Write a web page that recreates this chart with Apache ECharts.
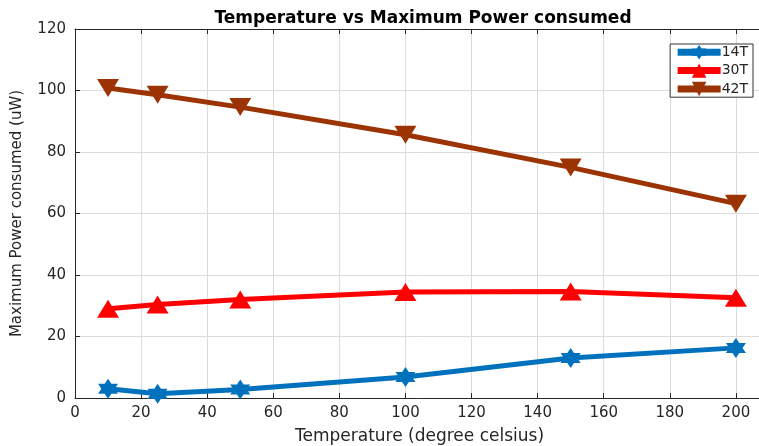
<!DOCTYPE html>
<html><head><meta charset="utf-8">
<script src="https://cdn.jsdelivr.net/npm/echarts@6/dist/echarts.min.js"></script>
<style>html,body{margin:0;padding:0;background:#fff;overflow:hidden}#c{width:759px;height:446px}</style>
</head><body><div id="c"></div>
<script>
var temps = [10, 25, 50, 100, 150, 200];
var s14 = [3.0, 1.4, 2.8, 6.8, 13.0, 16.3];
var s30 = [29.0, 30.4, 32.0, 34.5, 34.6, 32.6];
var s42 = [100.8, 98.6, 94.6, 85.6, 75.0, 63.2];
var seriesNames = ['14T', '30T', '42T'];
var titleText = 'Temperature vs Maximum Power consumed';
var xName = 'Temperature (degree celsius)';
var yName = 'Maximum Power consumed (uW)';

function pairs(v){ return temps.map(function(t,i){ return [t, v[i]]; }); }
var hexagram = 'path://M0,-10 L2.887,-5 L8.66,-5 L5.774,0 L8.66,5 L2.887,5 L0,10 L-2.887,5 L-8.66,5 L-5.774,0 L-8.66,-5 L-2.887,-5 Z';
var font = '"DejaVu Sans", Arial, Helvetica, sans-serif';
var axisCol = '#262626';
var tickStyle = { show: true, inside: true, length: 5, lineStyle: { color: axisCol } };

var chart = echarts.init(document.getElementById('c'));
chart.setOption({
  animation: false,
  textStyle: { fontFamily: font },
  title: { text: titleText, left: 418, textAlign: 'center', top: 5,
    textStyle: { fontSize: 17, fontWeight: 'bold', color: '#000', fontFamily: font } },
  grid: { left: 75, width: 689, top: 29, bottom: 48, outerBoundsMode: 'none', containLabel: false },
  legend: {
    orient: 'vertical', right: 6, top: 44, itemWidth: 43, itemHeight: 18, itemGap: 4,
    backgroundColor: '#fff', borderColor: '#333', borderWidth: 1, padding: [1, 5, 1, 4],
    lineStyle: { width: 7 },
    textStyle: { fontSize: 14, color: axisCol, fontFamily: font, padding: [0,0,0,-4] },
    data: seriesNames
  },
  xAxis: [{
    type: 'value', min: 0, max: 208.5, interval: 20, position: 'bottom',
    name: xName, nameLocation: 'middle', nameGap: 30,
    nameTextStyle: { fontSize: 17, color: axisCol },
    axisLine: { show: true, lineStyle: { color: axisCol, width: 1 } },
    axisTick: tickStyle,
    axisLabel: { fontSize: 15, color: axisCol, margin: 8, showMaxLabel: false },
    splitLine: { show: true, showMaxLine: false, lineStyle: { color: '#dcdcdc', width: 1 } }
  }, {
    type: 'value', min: 0, max: 208.5, interval: 20, position: 'top',
    axisLine: { show: true, lineStyle: { color: axisCol, width: 1 } },
    axisTick: tickStyle,
    axisLabel: { show: false },
    splitLine: { show: false }
  }],
  yAxis: [{
    type: 'value', min: 0, max: 120, interval: 20,
    name: yName, nameLocation: 'middle', nameGap: 50,
    nameTextStyle: { fontSize: 15, color: axisCol },
    axisLine: { show: true, lineStyle: { color: axisCol, width: 1 } },
    axisTick: tickStyle,
    axisLabel: { fontSize: 15, color: axisCol, margin: 9 },
    splitLine: { show: true, lineStyle: { color: '#dcdcdc', width: 1 } }
  }],
  series: [
    { name: seriesNames[0], type: 'line', data: pairs(s14), symbol: hexagram, symbolSize: 20,
      lineStyle: { width: 5, color: '#0072BD' }, itemStyle: { color: '#0072BD' } },
    { name: seriesNames[1], type: 'line', data: pairs(s30), symbol: 'triangle', symbolSize: [22, 18],
      lineStyle: { width: 5, color: '#FF0000' }, itemStyle: { color: '#FF0000' } },
    { name: seriesNames[2], type: 'line', data: pairs(s42), symbol: 'triangle', symbolRotate: 180, symbolSize: [22, 18],
      lineStyle: { width: 5, color: '#9C3303' }, itemStyle: { color: '#9C3303' } }
  ]
});
</script>
</body></html>
